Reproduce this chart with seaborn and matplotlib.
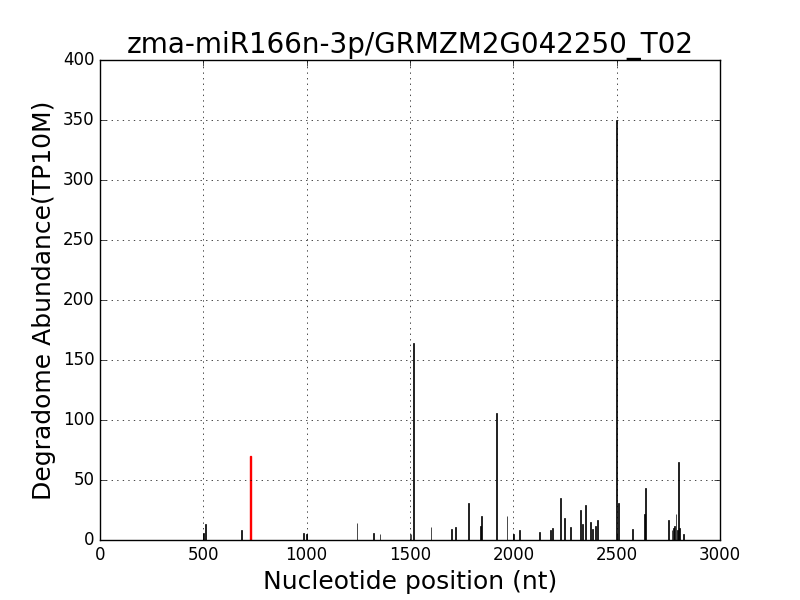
import matplotlib
matplotlib.use("Agg")
import matplotlib.pyplot as plt
import seaborn as sns
import pandas as pd

# Degradome peaks (nucleotide position, abundance in TP10M)
positions = [500, 510, 684, 985, 1000, 1244, 1323, 1355, 1505, 1516, 1602, 1700,
             1719, 1782, 1840, 1845, 1918, 1970, 2000, 2029, 2126, 2179, 2189,
             2228, 2247, 2276, 2324, 2334, 2348, 2373, 2382, 2398, 2406, 2500,
             2508, 2576, 2634, 2639, 2750, 2768, 2774, 2781, 2787, 2794, 2799,
             2803, 2823]
abundance = [6, 13, 8, 6, 5, 14, 6, 5, 5, 164, 11, 9, 11, 31, 12, 20, 106, 20, 5,
             8, 7, 8, 10, 35, 18, 11, 25, 13, 29, 15, 9, 12, 17, 350, 31, 9, 22,
             43, 17, 8, 10, 12, 22, 8, 65, 10, 5]

# miRNA target site
target_pos = [726]
target_abundance = [70]

plt.style.use("classic")
fig, ax = plt.subplots(figsize=(8, 6), dpi=100)
fig.patch.set_facecolor("white")

df = pd.DataFrame({"pos": positions, "val": abundance})
df_t = pd.DataFrame({"pos": target_pos, "val": target_abundance})

sns.barplot(data=df, x="pos", y="val", native_scale=True, color="black",
            edgecolor="black", linewidth=0.5, saturation=1, errorbar=None, ax=ax)
sns.barplot(data=df_t, x="pos", y="val", native_scale=True, color="red",
            edgecolor="red", linewidth=1.0, saturation=1, errorbar=None,
            width=5, ax=ax)

ax.set_xlim(0, 3000)
ax.set_ylim(0, 400)
ax.set_xticks(range(0, 3001, 500))
ax.set_yticks(range(0, 401, 50))
ax.grid(True, linestyle=":", color="black")
ax.tick_params(labelsize=12)

ax.set_title("zma-miR166n-3p/GRMZM2G042250_T02", fontsize=20)
ax.set_xlabel("Nucleotide position (nt)", fontsize=18)
ax.set_ylabel("Degradome Abundance(TP10M)", fontsize=18)

fig.subplots_adjust(left=0.125, right=0.9, top=0.9, bottom=0.1)
fig.savefig("out.png", dpi=100, facecolor="white")
